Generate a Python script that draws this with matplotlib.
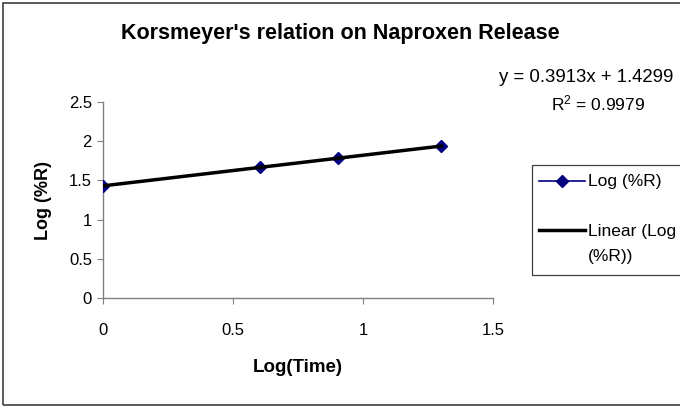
import numpy as np
import matplotlib.pyplot as plt
from matplotlib.patches import Rectangle
from matplotlib.lines import Line2D

# data
log_time = [0.0, 0.602, 0.903, 1.301]
log_release = [1.428, 1.671, 1.781, 1.937]
x_ticks = [0, 0.5, 1, 1.5]
y_ticks = [0, 0.5, 1, 1.5, 2, 2.5]
series_name = 'Log (%R)'
trend_name = ['Linear (Log', '(%R))']

plt.rcParams['font.family'] = ['Liberation Sans', 'DejaVu Sans']

W, H = 680, 409


def fx(x):
    return x / W


def fy(y):
    return 1 - y / H


fig = plt.figure(figsize=(6.8, 4.09), dpi=100)
ax = fig.add_axes([fx(103), fy(298), (493 - 103) / W, (298 - 102) / H])

# linear trendline from least squares
slope, intercept = np.polyfit(log_time, log_release, 1)
fit_x = np.array([min(log_time), max(log_time)])

ax.plot(log_time, log_release, color='#000080', linewidth=1.2, marker='D',
        markersize=6, markerfacecolor='#000080', markeredgecolor='#000080',
        zorder=3)
ax.plot(fit_x, slope * fit_x + intercept, color='black', linewidth=2.5,
        zorder=4)

ax.set_xlim(0, 1.5)
ax.set_ylim(0, 2.5)
ax.set_xticks(x_ticks)
ax.set_xticklabels(['0', '0.5', '1', '1.5'])
ax.set_yticks(y_ticks)
ax.set_yticklabels(['0', '0.5', '1', '1.5', '2', '2.5'])
for s in ['top', 'right']:
    ax.spines[s].set_visible(False)
for s in ['left', 'bottom']:
    ax.spines[s].set_color('#808080')
    ax.spines[s].set_linewidth(1)
ax.tick_params(axis='x', direction='out', length=4, color='#808080',
               pad=14, labelsize=12)
ax.tick_params(axis='y', direction='out', length=4, color='#808080',
               pad=4, labelsize=12)

ax.set_xlabel('Log(Time)', fontsize=13.5, fontweight='bold', va='center')
ax.xaxis.set_label_coords(0.5, (298 - 367) / 196)
ax.set_ylabel('Log (%R)', fontsize=13, fontweight='bold', va='center')
ax.yaxis.set_label_coords((44 - 103) / 390, 0.5)

fig.text(fx(340), fy(33), "Korsmeyer's relation on Naproxen Release",
         ha='center', va='center', fontsize=15.5, fontweight='bold')

fig.text(fx(499), fy(77), 'y = %.4fx + %.4f' % (0.3913, 1.4299),
         ha='left', va='center', fontsize=13.4)
fig.text(fx(598), fy(103), '$\\mathregular{R^2}$ = 0.9979',
         ha='center', va='center', fontsize=12.5)

# legend box (runs off the right edge as in the original)
fig.patches.append(Rectangle((fx(532), fy(275)), 0.3, (275 - 165) / H,
                             transform=fig.transFigure, fill=False,
                             edgecolor='#404040', linewidth=0.9))
fig.lines.append(Line2D([fx(539), fx(585)], [fy(181), fy(181)],
                        transform=fig.transFigure, color='#000080',
                        linewidth=1.2))
fig.lines.append(Line2D([fx(562)], [fy(181)], transform=fig.transFigure,
                        marker='D', markersize=6, color='#000080',
                        linestyle='none'))
fig.lines.append(Line2D([fx(539), fx(585)], [fy(230), fy(230)],
                        transform=fig.transFigure, color='black',
                        linewidth=2.5))
fig.text(fx(588), fy(182), series_name, ha='left', va='center',
         fontsize=12.5)
fig.text(fx(588), fy(232), trend_name[0], ha='left', va='center',
         fontsize=12.5)
fig.text(fx(588), fy(257), trend_name[1], ha='left', va='center',
         fontsize=12.5)

# outer chart border
fig.patches.append(Rectangle((fx(3), fy(405)), 1.0, (405 - 3) / H,
                             transform=fig.transFigure, fill=False,
                             edgecolor='#404040', linewidth=1.2))

fig.savefig('out.png', dpi=100)
